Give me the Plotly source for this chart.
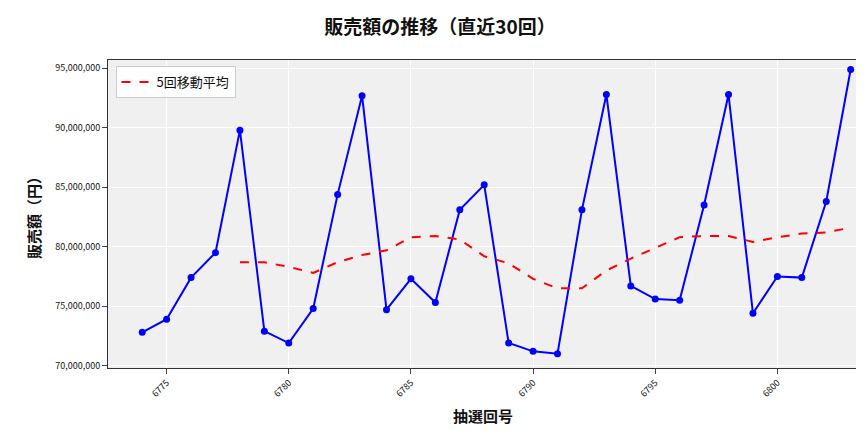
import plotly.graph_objects as go

draws = list(range(6774, 6804))
sales = [72.8, 73.9, 77.4, 79.5, 89.8, 72.9, 71.9, 74.8, 84.4, 92.7,
         74.7, 77.3, 75.3, 83.1, 85.2, 71.9, 71.2, 71.0, 83.1, 92.8,
         76.7, 75.6, 75.5, 83.5, 92.8, 74.4, 77.5, 77.4, 83.8, 94.9]
ma_draws = list(range(6778, 6804))
ma5 = [78.7, 78.7, 78.3, 77.8, 78.7, 79.3, 79.7, 80.8, 80.9, 80.6,
       79.2, 78.6, 77.3, 76.5, 76.5, 78.0, 79.0, 79.9, 80.8, 80.9,
       80.9, 80.4, 80.8, 81.1, 81.2, 81.6]

sales = [v * 1e6 for v in sales]
ma5 = [v * 1e6 for v in ma5]

font = "Noto Sans CJK JP"
fig = go.Figure()
fig.add_trace(go.Scatter(x=draws, y=sales, mode="lines+markers", showlegend=False,
                         line=dict(color="blue", width=2), marker=dict(size=7, color="blue")))
fig.add_trace(go.Scatter(x=ma_draws, y=ma5, mode="lines", name="5回移動平均",
                         line=dict(color="red", width=2, dash="dash")))

fig.update_layout(
    width=864, height=432, paper_bgcolor="white", plot_bgcolor="#f0f0f0",
    font=dict(family=font, color="#111"),
    margin=dict(l=100, r=14, t=52, b=72, autoexpand=False),
    title=dict(text="<b>販売額の推移（直近30回）</b>", x=0.5, y=0.955, xanchor="center",
               yanchor="middle", font=dict(size=19)),
    legend=dict(x=0.01, y=0.98, bgcolor="rgba(255,255,255,0.9)",
                bordercolor="#ccc", borderwidth=1, font=dict(size=13)),
    xaxis=dict(title=dict(text="<b>抽選回号</b>", font=dict(size=15), standoff=12),
               range=[6772.6, 6803.3], automargin=False,
               tickvals=[6775, 6780, 6785, 6790, 6795, 6800], tickangle=-45,
               tickfont=dict(size=9), gridcolor="white", showline=True,
               linecolor="#333", mirror=True, ticks="outside", zeroline=False),
    yaxis=dict(title=dict(text="<b>販売額（円）</b>", font=dict(size=15), standoff=10),
               range=[69.8e6, 95.7e6], automargin=False,
               tickvals=[70e6, 75e6, 80e6, 85e6, 90e6, 95e6], tickformat=",d",
               tickfont=dict(size=9), gridcolor="white", showline=True,
               linecolor="#333", mirror=True, ticks="outside", zeroline=False),
)
fig.write_html("out.html")
